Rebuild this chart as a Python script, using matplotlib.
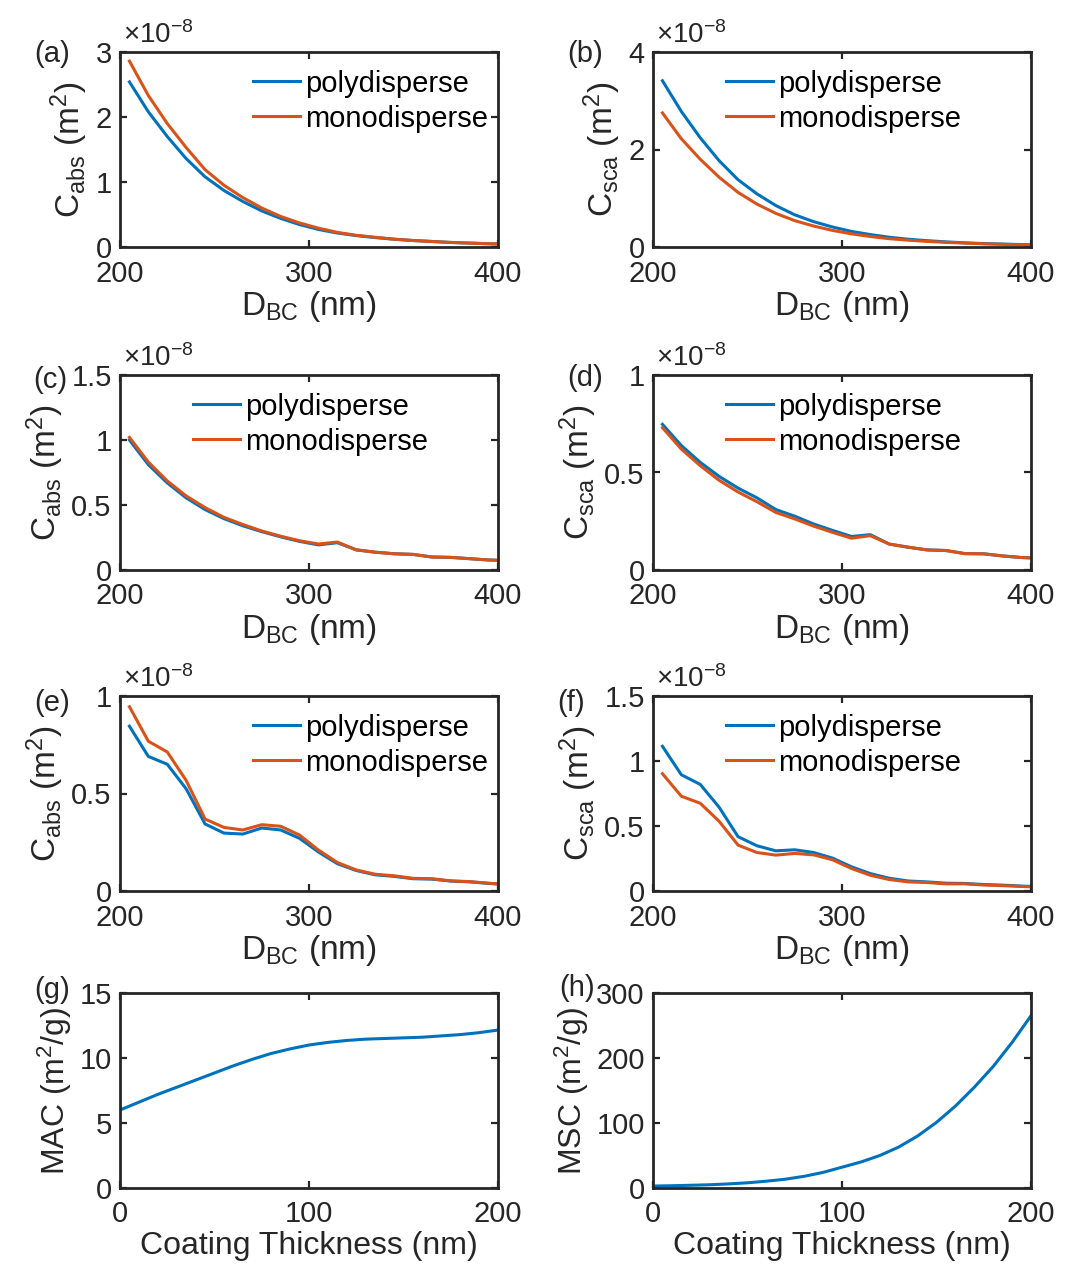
"""Eight-panel cross section / mass coefficient figure (MATLAB look)."""

import numpy as np
import matplotlib
matplotlib.use("Agg")
import matplotlib.pyplot as plt
from matplotlib.ticker import FuncFormatter

plt.rcParams["font.family"] = ["Liberation Sans", "DejaVu Sans"]
plt.rcParams["mathtext.fontset"] = "custom"
plt.rcParams["mathtext.rm"] = "Liberation Sans"
plt.rcParams["mathtext.it"] = "Liberation Sans:italic"
plt.rcParams["mathtext.bf"] = "Liberation Sans:bold"

BLUE = "#0072BD"
ORANGE = "#D95319"
DARK = "#262626"

# BC core diameter (nm), bin centres
d_bc = [205, 215, 225, 235, 245, 255, 265, 275, 285, 295, 305,
        315, 325, 335, 345, 355, 365, 375, 385, 395, 405]

# cross sections, units of 1e-8 m^2
abs_a_poly = [2.54, 2.08, 1.70, 1.36, 1.08, 0.87, 0.70, 0.555, 0.44, 0.345, 0.27,
              0.215, 0.175, 0.145, 0.12, 0.10, 0.085, 0.07, 0.06, 0.05, 0.045]
abs_a_mono = [2.86, 2.33, 1.90, 1.53, 1.19, 0.95, 0.76, 0.60, 0.47, 0.37, 0.29,
              0.225, 0.18, 0.15, 0.12, 0.10, 0.085, 0.07, 0.06, 0.05, 0.045]
sca_b_poly = [3.41, 2.78, 2.24, 1.77, 1.38, 1.09, 0.85, 0.66, 0.52, 0.41, 0.32,
              0.255, 0.20, 0.16, 0.13, 0.105, 0.085, 0.07, 0.06, 0.05, 0.04]
sca_b_mono = [2.75, 2.22, 1.80, 1.43, 1.12, 0.88, 0.69, 0.54, 0.43, 0.34, 0.27,
              0.215, 0.17, 0.14, 0.115, 0.095, 0.08, 0.065, 0.055, 0.045, 0.04]
abs_c_poly = [1.00, 0.81, 0.67, 0.555, 0.465, 0.395, 0.34, 0.295, 0.255, 0.22, 0.193,
              0.21, 0.155, 0.137, 0.125, 0.12, 0.10, 0.097, 0.087, 0.077, 0.072]
abs_c_mono = [1.02, 0.83, 0.685, 0.57, 0.48, 0.405, 0.35, 0.30, 0.26, 0.225, 0.20,
              0.215, 0.155, 0.137, 0.125, 0.12, 0.10, 0.097, 0.087, 0.077, 0.072]
sca_d_poly = [0.747, 0.638, 0.552, 0.48, 0.42, 0.37, 0.31, 0.276, 0.236, 0.203, 0.172,
              0.181, 0.133, 0.117, 0.103, 0.10, 0.084, 0.083, 0.072, 0.064, 0.06]
sca_d_mono = [0.73, 0.62, 0.535, 0.46, 0.40, 0.35, 0.295, 0.262, 0.225, 0.193, 0.163,
              0.176, 0.133, 0.117, 0.103, 0.10, 0.084, 0.083, 0.072, 0.064, 0.06]
abs_e_poly = [0.845, 0.69, 0.65, 0.524, 0.344, 0.297, 0.292, 0.323, 0.313, 0.27, 0.20,
              0.14, 0.105, 0.083, 0.075, 0.063, 0.061, 0.051, 0.047, 0.039, 0.033]
abs_e_mono = [0.945, 0.768, 0.713, 0.567, 0.369, 0.326, 0.313, 0.340, 0.332, 0.287, 0.21,
              0.146, 0.108, 0.086, 0.078, 0.065, 0.063, 0.052, 0.048, 0.040, 0.033]
sca_f_poly = [1.113, 0.894, 0.82, 0.644, 0.418, 0.348, 0.309, 0.317, 0.296, 0.253, 0.186,
              0.134, 0.098, 0.077, 0.070, 0.060, 0.058, 0.050, 0.045, 0.038, 0.032]
sca_f_mono = [0.902, 0.729, 0.675, 0.536, 0.353, 0.296, 0.276, 0.289, 0.278, 0.240, 0.173,
              0.121, 0.088, 0.070, 0.065, 0.055, 0.055, 0.046, 0.041, 0.035, 0.030]

# coating thickness (nm) and mass coefficients (m^2/g)
coating = [0, 10, 20, 30, 40, 50, 60, 70, 80, 90, 100,
           110, 120, 130, 140, 150, 160, 170, 180, 190, 200]
mac = [6.0, 6.6, 7.2, 7.75, 8.3, 8.85, 9.4, 9.9, 10.35, 10.7, 11.0,
       11.2, 11.35, 11.45, 11.5, 11.55, 11.6, 11.7, 11.8, 11.95, 12.15]
msc = [3.0, 3.5, 4.2, 5.0, 6.3, 8.0, 10.5, 13.5, 18.0, 24.0, 32.0,
       40.0, 50.0, 63.0, 80.0, 101.0, 126.0, 155.0, 187.0, 224.0, 265.0]

FIG_W, FIG_H = 1066, 1264
COL_LEFT = [120, 653]
ROW_TOP = [52, 375, 696, 993]
AX_W, AX_H = 378, 195

TICK_FS = 21
LABEL_FS = 24
LABEL_FS_BOTTOM = 23

fmt = FuncFormatter(lambda v, p: f"{v:g}")


def make_axes(fig, row, col):
    left = COL_LEFT[col] / FIG_W
    bottom = 1 - (ROW_TOP[row] + AX_H) / FIG_H
    ax = fig.add_axes([left, bottom, AX_W / FIG_W, AX_H / FIG_H])
    for s in ax.spines.values():
        s.set_linewidth(2.0)
        s.set_color(DARK)
    ax.tick_params(direction="in", length=5, width=1.6, colors=DARK,
                   labelsize=TICK_FS, top=True, right=True, pad=6)
    ax.tick_params(axis="x", pad=9)
    ax.xaxis.set_major_formatter(fmt)
    ax.yaxis.set_major_formatter(fmt)
    return ax


def panel_label(fig, text, right_px, yc_px):
    fig.text(right_px / FIG_W, 1 - yc_px / FIG_H, text, ha="right", va="center",
             fontsize=TICK_FS, color=DARK)


def cross_panel(fig, row, col, poly, mono, ylabel, ymax, yticks, leg_x, label, lab_px):
    ax = make_axes(fig, row, col)
    ax.plot(d_bc, poly, color=BLUE, lw=2.2, label="polydisperse")
    ax.plot(d_bc, mono, color=ORANGE, lw=2.2, label="monodisperse")
    ax.set_xlim(200, 400)
    ax.set_ylim(0, ymax)
    ax.set_xticks([200, 300, 400])
    ax.set_yticks(yticks)
    ax.set_xlabel(r"D$_{\mathrm{BC}}$ (nm)", fontsize=LABEL_FS, color=DARK, labelpad=1)
    ax.set_ylabel(ylabel, fontsize=LABEL_FS, color=DARK, labelpad=4)
    ax.legend(loc="upper left", bbox_to_anchor=(leg_x, 0.91), frameon=False,
              fontsize=TICK_FS, handlelength=1.6, handletextpad=0.18,
              labelspacing=0.24, borderpad=0, borderaxespad=0)
    ax.text(0.008, 1.045, r"$\times$10$^{-8}$", transform=ax.transAxes,
            fontsize=20, color=DARK, ha="left", va="baseline")
    panel_label(fig, label, COL_LEFT[col] - 120 + lab_px[0], lab_px[1])
    return ax


def main():
    fig = plt.figure(figsize=(FIG_W / 100, FIG_H / 100), dpi=100)

    cabs = r"C$_{\mathrm{abs}}$ (m$^{2}$)"
    csca = r"C$_{\mathrm{sca}}$ (m$^{2}$)"

    cross_panel(fig, 0, 0, abs_a_poly, abs_a_mono, cabs, 3, [0, 1, 2, 3], 0.352, "(a)", (70, 54))
    cross_panel(fig, 0, 1, sca_b_poly, sca_b_mono, csca, 4, [0, 2, 4], 0.193, "(b)", (70, 54))
    cross_panel(fig, 1, 0, abs_c_poly, abs_c_mono, cabs, 1.5, [0, 0.5, 1, 1.5], 0.193, "(c)", (67, 380))
    cross_panel(fig, 1, 1, sca_d_poly, sca_d_mono, csca, 1, [0, 0.5, 1], 0.193, "(d)", (70, 378))
    cross_panel(fig, 2, 0, abs_e_poly, abs_e_mono, cabs, 1, [0, 0.5, 1], 0.352, "(e)", (70, 703))
    cross_panel(fig, 2, 1, sca_f_poly, sca_f_mono, csca, 1.5, [0, 0.5, 1, 1.5], 0.193, "(f)", (52, 703))

    # mass absorption / scattering vs coating thickness
    for col, vals, ylabel, ymax, yticks, label, lab_px in [
        (0, mac, r"MAC (m$^{2}$/g)", 15, [0, 5, 10, 15], "(g)", (70, 990)),
        (1, msc, r"MSC (m$^{2}$/g)", 300, [0, 100, 200, 300], "(h)", (62, 988)),
    ]:
        ax = make_axes(fig, 3, col)
        ax.plot(coating, vals, color=BLUE, lw=2.2)
        ax.set_xlim(0, 200)
        ax.set_ylim(0, ymax)
        ax.set_xticks([0, 100, 200])
        ax.set_yticks(yticks)
        ax.set_xlabel("Coating Thickness (nm)", fontsize=LABEL_FS_BOTTOM, color=DARK, labelpad=2)
        ax.set_ylabel(ylabel, fontsize=LABEL_FS_BOTTOM, color=DARK, labelpad=4)
        panel_label(fig, label, COL_LEFT[col] - 120 + lab_px[0], lab_px[1])

    fig.savefig("out.png", dpi=100)
    plt.close(fig)


if __name__ == "__main__":
    main()
